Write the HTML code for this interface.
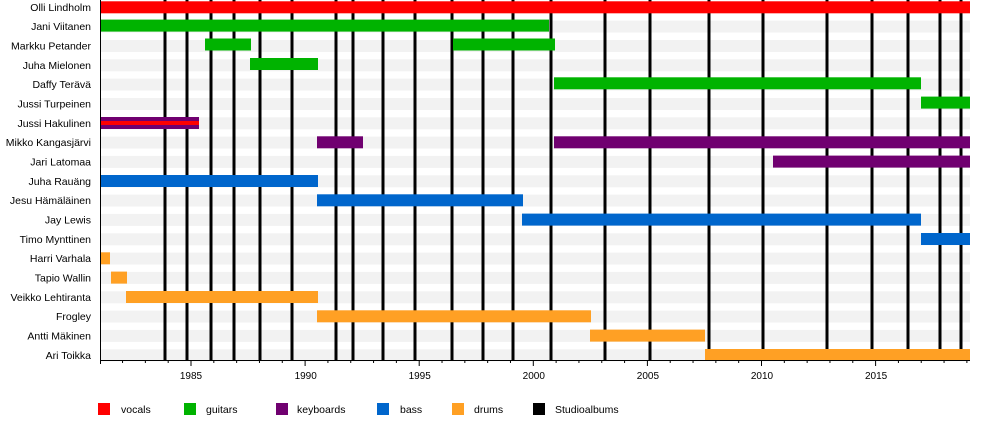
<!DOCTYPE html>
<html><head><meta charset="utf-8"><style>
html,body{margin:0;padding:0;background:#fff;}
svg{display:block;font-family:"Liberation Sans",sans-serif;}
</style></head><body>
<svg width="1000" height="425" xmlns="http://www.w3.org/2000/svg">
<g fill="#f2f2f2">
<rect x="100" y="1.3" width="870" height="12"/><rect x="100" y="20.6" width="870" height="12"/><rect x="100" y="40" width="870" height="12"/><rect x="100" y="59.3" width="870" height="12"/><rect x="100" y="78.6" width="870" height="12"/><rect x="100" y="98" width="870" height="12"/><rect x="100" y="117.3" width="870" height="12"/><rect x="100" y="136.6" width="870" height="12"/><rect x="100" y="155.9" width="870" height="12"/><rect x="100" y="175.3" width="870" height="12"/><rect x="100" y="194.6" width="870" height="12"/><rect x="100" y="213.9" width="870" height="12"/><rect x="100" y="233.3" width="870" height="12"/><rect x="100" y="252.6" width="870" height="12"/><rect x="100" y="271.9" width="870" height="12"/><rect x="100" y="291.3" width="870" height="12"/><rect x="100" y="310.6" width="870" height="12"/><rect x="100" y="329.9" width="870" height="12"/><rect x="100" y="349.3" width="870" height="12"/>
</g>
<g stroke="#000" stroke-width="3">
<line x1="165" y1="0" x2="165" y2="360"/><line x1="187" y1="0" x2="187" y2="360"/><line x1="211" y1="0" x2="211" y2="360"/><line x1="234" y1="0" x2="234" y2="360"/><line x1="260" y1="0" x2="260" y2="360"/><line x1="292" y1="0" x2="292" y2="360"/><line x1="336" y1="0" x2="336" y2="360"/><line x1="353" y1="0" x2="353" y2="360"/><line x1="383" y1="0" x2="383" y2="360"/><line x1="415" y1="0" x2="415" y2="360"/><line x1="452" y1="0" x2="452" y2="360"/><line x1="483" y1="0" x2="483" y2="360"/><line x1="513" y1="0" x2="513" y2="360"/><line x1="551" y1="0" x2="551" y2="360"/><line x1="605" y1="0" x2="605" y2="360"/><line x1="650" y1="0" x2="650" y2="360"/><line x1="709" y1="0" x2="709" y2="360"/><line x1="763" y1="0" x2="763" y2="360"/><line x1="827" y1="0" x2="827" y2="360"/><line x1="872" y1="0" x2="872" y2="360"/><line x1="908" y1="0" x2="908" y2="360"/><line x1="940" y1="0" x2="940" y2="360"/><line x1="961" y1="0" x2="961" y2="360"/>
</g>
<rect x="100" y="1.3" width="870" height="12" fill="#ff0000"/>
<g fill="#00b300">
<rect x="100" y="19.6" width="449" height="12"/>
<rect x="205" y="38.5" width="46" height="12"/><rect x="453" y="38.5" width="102" height="12"/>
<rect x="250" y="58" width="68" height="12"/>
<rect x="554" y="77.3" width="367" height="12"/>
<rect x="921" y="96.6" width="49" height="12"/>
</g>
<rect x="100" y="117" width="99" height="12" fill="#700070"/>
<rect x="100" y="121" width="99" height="4" fill="#ff0000"/>
<g fill="#700070">
<rect x="317" y="136.3" width="46" height="12"/><rect x="554" y="136.3" width="416" height="12"/>
<rect x="773" y="155.6" width="197" height="12"/>
</g>
<g fill="#0066cc">
<rect x="100" y="175" width="218" height="12"/>
<rect x="317" y="194.3" width="206" height="12"/>
<rect x="522" y="213.6" width="399" height="12"/>
<rect x="921" y="233" width="49" height="12"/>
</g>
<g fill="#ffa024">
<rect x="100" y="252.3" width="10" height="12"/>
<rect x="111" y="271.6" width="16" height="12"/>
<rect x="126" y="291" width="192" height="12"/>
<rect x="317" y="310.3" width="274" height="12"/>
<rect x="590" y="329.6" width="115" height="12"/>
<rect x="705" y="349" width="265" height="12"/>
</g>
<g font-size="10.5" fill="#000" text-anchor="end">
<text x="91" y="11">Olli Lindholm</text><text x="91" y="30">Jani Viitanen</text><text x="91" y="49.5">Markku Petander</text><text x="91" y="69">Juha Mielonen</text><text x="91" y="88">Daffy Terävä</text><text x="91" y="107.5">Jussi Turpeinen</text><text x="91" y="127">Jussi Hakulinen</text><text x="91" y="146">Mikko Kangasjärvi</text><text x="91" y="165.5">Jari Latomaa</text><text x="91" y="185">Juha Rauäng</text><text x="91" y="204">Jesu Hämäläinen</text><text x="91" y="223.5">Jay Lewis</text><text x="91" y="243">Timo Mynttinen</text><text x="91" y="262">Harri Varhala</text><text x="91" y="281.5">Tapio Wallin</text><text x="91" y="301">Veikko Lehtiranta</text><text x="91" y="320">Frogley</text><text x="91" y="339.5">Antti Mäkinen</text><text x="91" y="359">Ari Toikka</text>
</g>
<line x1="100" y1="360.5" x2="970" y2="360.5" stroke="#000" stroke-width="1"/>
<line x1="100.5" y1="0" x2="100.5" y2="364" stroke="#000" stroke-width="1"/>
<g stroke="#000" stroke-width="1" id="ticks"></g>
<g font-size="10" fill="#000" text-anchor="middle">
<text x="191" y="379">1985</text><text x="305.7" y="379">1990</text><text x="419.7" y="379">1995</text><text x="533.8" y="379">2000</text><text x="647.9" y="379">2005</text><text x="762" y="379">2010</text><text x="876.1" y="379">2015</text>
</g>
<rect x="98" y="403" width="12" height="12" fill="#ff0000"/>
<rect x="184" y="403" width="12" height="12" fill="#00b300"/>
<rect x="276" y="403" width="12" height="12" fill="#700070"/>
<rect x="377" y="403" width="12" height="12" fill="#0066cc"/>
<rect x="452" y="403" width="12" height="12" fill="#ffa024"/>
<rect x="533" y="403" width="12" height="12" fill="#000"/>
<g font-size="10.5" fill="#000">
<text x="121" y="413">vocals</text><text x="206" y="413">guitars</text><text x="297" y="413">keyboards</text><text x="400" y="413">bass</text><text x="474" y="413">drums</text><text x="555" y="413">Studioalbums</text>
</g>
<script>
var g=document.getElementById('ticks');
for(var y=1982;y<=2019;y++){var x=191+(y-1985)*22.82;var l=document.createElementNS('http://www.w3.org/2000/svg','line');l.setAttribute('x1',x);l.setAttribute('x2',x);l.setAttribute('y1',360);l.setAttribute('y2',(y%5==0)?366:363);g.appendChild(l);}
</script>
</svg>
</body></html>
